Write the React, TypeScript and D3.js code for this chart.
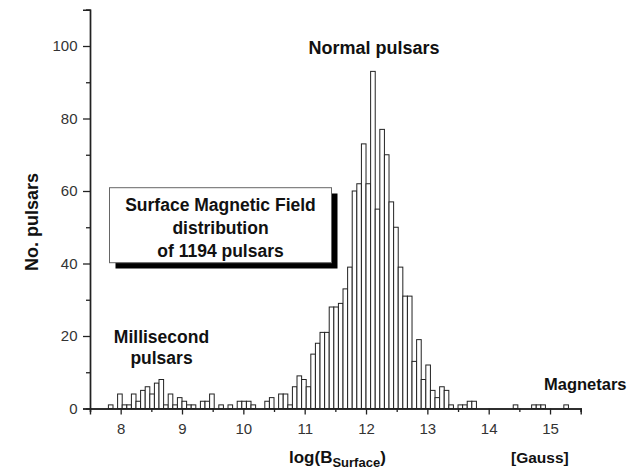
import React, { useEffect, useRef } from 'react';
import * as d3 from 'd3';

// Histogram bins: left edge of bin k = BIN_START + k * BIN_WIDTH (log B)
const BIN_START = 7.725;
const BIN_WIDTH = 0.075;
// Number of pulsars per bin
const counts = [
  0, 1, 0, 4, 1, 1, 4, 2, 5, 6, 4, 7, 8,
  1, 4, 1, 3, 2, 1, 1, 0, 2, 2, 4,
  0, 1, 0, 1, 0, 2, 2, 2, 1, 0, 0, 2, 3, 0, 4, 4, 1,
  6, 9, 8, 6,
  15, 18, 21, 21, 28, 28, 29, 33, 39, 60, 62, 73, 62,
  93, 55, 77, 70, 57, 50, 39, 31, 31,
  13, 19, 8, 12, 5, 3, 6, 5, 1, 0, 1, 1, 2, 2,
  0, 0, 0, 0, 0, 0, 0, 0,
  1, 0, 0, 0,
  1, 1, 1, 0, 0, 0, 0,
  1,
];

const X_DOMAIN = [7.5, 15.5];
const Y_DOMAIN = [0, 110];
const xMajorTicks = [8, 9, 10, 11, 12, 13, 14, 15];
const xMinorTicks = [7.5, 8.5, 9.5, 10.5, 11.5, 12.5, 13.5, 14.5, 15.5];
const yMajorTicks = [0, 20, 40, 60, 80, 100];
const yMinorTicks = [10, 30, 50, 70, 90, 110];

const boxLines = ['Surface Magnetic Field', 'distribution', 'of 1194 pulsars'];

const FONT = 'Arial, "Liberation Sans", Helvetica, sans-serif';

export default function App() {
  const xAxisRef = useRef<SVGGElement>(null);
  const yAxisRef = useRef<SVGGElement>(null);

  const W = 637;
  const H = 474;
  const x = d3.scaleLinear().domain(X_DOMAIN).range([90, 580.7]);
  const y = d3.scaleLinear().domain(Y_DOMAIN).range([408.5, 9.75]);

  const bins = counts.map((c, k) => ({
    x0: BIN_START + k * BIN_WIDTH,
    x1: BIN_START + (k + 1) * BIN_WIDTH,
    c,
  }));

  useEffect(() => {
    const gx = d3.select(xAxisRef.current);
    gx.selectAll('*').remove();
    const gxMinor = gx.append('g');
    gxMinor.call(d3.axisBottom(x).tickValues(xMinorTicks).tickSize(3.5).tickFormat(() => ''));
    const gxMajor = gx.append('g');
    gxMajor.call(
      d3.axisBottom(x).tickValues(xMajorTicks).tickSize(6).tickPadding(8.5).tickFormat(d3.format('d'))
    );
    gx.selectAll('path.domain').attr('stroke', '#222').attr('stroke-width', 1.4);
    gx.selectAll('line').attr('stroke', '#222').attr('stroke-width', 1.3);
    gx.selectAll('text')
      .attr('font-family', FONT)
      .attr('font-size', 15)
      .attr('fill', '#333');

    const gy = d3.select(yAxisRef.current);
    gy.selectAll('*').remove();
    const gyMinor = gy.append('g');
    gyMinor.call(d3.axisLeft(y).tickValues(yMinorTicks).tickSize(4).tickFormat(() => ''));
    const gyMajor = gy.append('g');
    gyMajor.call(
      d3.axisLeft(y).tickValues(yMajorTicks).tickSize(7).tickPadding(5.5).tickFormat(d3.format('d'))
    );
    gy.selectAll('path.domain').attr('stroke', '#222').attr('stroke-width', 1.4);
    gy.selectAll('line').attr('stroke', '#222').attr('stroke-width', 1.3);
    gy.selectAll('text')
      .attr('font-family', FONT)
      .attr('font-size', 15)
      .attr('fill', '#333');
  });

  const boxX = 109.5;
  const boxY = 187.7;
  const boxW = 222;
  const boxH = 75;

  return (
    <svg
      width={W}
      height={H}
      style={{ position: 'absolute', left: 0, top: 0, background: '#fff' }}
      fontFamily={FONT}
    >
      <rect x={0} y={0} width={W} height={H} fill="#fff" />
      {/* bars */}
      <g>
        {bins
          .filter((b) => b.c > 0)
          .map((b, i) => (
            <rect
              key={i}
              x={x(b.x0)}
              y={y(b.c)}
              width={x(b.x1) - x(b.x0)}
              height={y(0) - y(b.c)}
              fill="#fff"
              stroke="#222"
              strokeWidth={1}
            />
          ))}
      </g>
      <g ref={xAxisRef} transform={`translate(0,${y(0)})`} />
      <g ref={yAxisRef} transform={`translate(${x(X_DOMAIN[0])},0)`} />

      {/* info box with shadow */}
      <rect x={boxX + 6} y={boxY + 5.8} width={boxW} height={boxH} fill="#000" />
      <rect x={boxX} y={boxY} width={boxW} height={boxH} fill="#fff" stroke="#666" strokeWidth={1} />
      {boxLines.map((t, i) => (
        <text
          key={t}
          x={boxX + boxW / 2}
          y={[210.5, 233.5, 257][i]}
          textAnchor="middle"
          fontWeight="bold"
          fontSize={17.5}
          fill="#111"
        >
          {t}
        </text>
      ))}

      {/* annotations */}
      <text x={374} y={53.5} textAnchor="middle" fontWeight="bold" fontSize={18} fill="#111">
        Normal pulsars
      </text>
      <text x={161.5} y={342.7} textAnchor="middle" fontWeight="bold" fontSize={17.5} fill="#111">
        Millisecond
      </text>
      <text x={161.5} y={363.5} textAnchor="middle" fontWeight="bold" fontSize={17.5} fill="#111">
        pulsars
      </text>
      <text x={544} y={390} fontWeight="bold" fontSize={16.5} fill="#111">
        Magnetars
      </text>

      {/* axis titles */}
      <text
        transform="translate(38,222) rotate(-90)"
        textAnchor="middle"
        fontWeight="bold"
        fontSize={18}
        fill="#111"
      >
        No. pulsars
      </text>
      <text x={289} y={463} fontWeight="bold" fontSize={17} fill="#111">
        log(B
        <tspan fontSize={13} dy={4}>Surface</tspan>
        <tspan dy={-4}>)</tspan>
      </text>
      <text x={511} y={463} fontWeight="bold" fontSize={15.5} fill="#111">
        [Gauss]
      </text>
    </svg>
  );
}
